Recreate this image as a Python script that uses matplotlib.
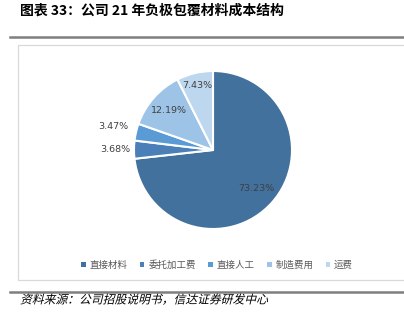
import numpy as np
import matplotlib.pyplot as plt
from matplotlib.patches import Rectangle
from matplotlib.lines import Line2D
from matplotlib.patheffects import AbstractPathEffect
from matplotlib.transforms import Affine2D

plt.rcParams['font.family'] = ['Noto Sans CJK SC', 'DejaVu Sans']

labels = ['直接材料', '委托加工费', '直接人工', '制造费用', '运费']
values = [73.23, 3.68, 3.47, 12.19, 7.43]
colors = ['#41719c', '#4a7fb8', '#5b9bd5', '#9dc3e6', '#bdd7ee']
# label radius per wedge (inside or outside)
label_r = [0.73, 1.24, 1.30, 0.75, 0.84]


class Slant(AbstractPathEffect):
    # fake italic for CJK fonts
    def draw_path(self, renderer, gc, tpath, affine, rgbFace=None):
        renderer.draw_path(gc, tpath, Affine2D().skew_deg(14, 0) + affine, rgbFace)


W, H = 404, 319
fig = plt.figure(figsize=(W / 100, H / 100), dpi=100)

def fx(x):
    return x / W

def fy(y):
    return 1 - y / H

# title
fig.text(fx(20), fy(11), '图表 33：公司 21 年负极包覆材料成本结构', fontsize=10,
         fontweight='bold', va='center', ha='left', color='#000000')

# frame lines
fig.add_artist(Line2D([fx(10), 1], [fy(37), fy(37)], color='#7f7f7f', lw=1.8))
fig.add_artist(Rectangle((fx(18), fy(280)), 1, fy(45) - fy(280), fill=False,
                         edgecolor='#d9d9d9', lw=0.9))
fig.add_artist(Line2D([fx(10), 1], [fy(292), fy(292)], color='#7f7f7f', lw=1.8))

# pie
cx, cy, r = 213, 150, 79
ax = fig.add_axes([fx(cx - r), fy(cy + r), 2 * r / W, 2 * r / H])
wedges, _ = ax.pie(values, colors=colors, startangle=90, counterclock=False,
                   radius=1.0, wedgeprops=dict(edgecolor='white', linewidth=1.5))
ax.set_xlim(-1, 1)
ax.set_ylim(-1, 1)
ax.set_aspect('auto')
ax.axis('off')

for w, v, lr in zip(wedges, values, label_r):
    ang = np.deg2rad((w.theta1 + w.theta2) / 2)
    ax.text(lr * np.cos(ang), lr * np.sin(ang), f'{v:.2f}%', ha='center',
            va='center', fontsize=6.8, color='#404040', family='DejaVu Sans')

# legend
handles = [Rectangle((0, 0), 1, 1, facecolor=c, edgecolor='none') for c in colors]
fig.legend(handles, labels, loc='center', bbox_to_anchor=(fx(217), fy(265)), ncol=5,
           frameon=False, fontsize=6.8, handlelength=0.5, handleheight=0.5,
           handletextpad=0.4, columnspacing=1.3, labelcolor='#595959')

# source
fig.text(fx(20), fy(300), '资料来源：公司招股说明书，信达证券研发中心', fontsize=8.5,
         va='center', ha='left', color='#000000', path_effects=[Slant()])

fig.savefig('out.png', dpi=100)
